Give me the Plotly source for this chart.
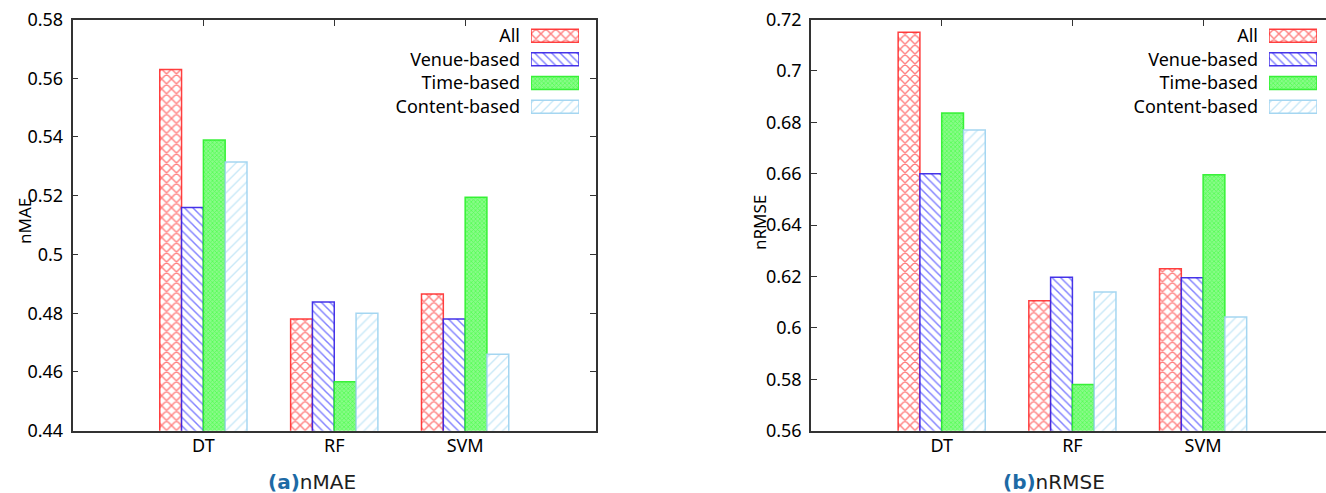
import plotly.graph_objects as go

# ---------------- data ----------------
models = ["DT", "RF", "SVM"]
series_names = ["All", "Venue-based", "Time-based", "Content-based"]

nmae_all = [0.563, 0.478, 0.4865]
nmae_venue = [0.516, 0.4838, 0.478]
nmae_time = [0.539, 0.4567, 0.5195]
nmae_content = [0.5315, 0.480, 0.466]

nrmse_all = [0.715, 0.6106, 0.623]
nrmse_venue = [0.660, 0.6197, 0.6195]
nrmse_time = [0.6836, 0.578, 0.6596]
nrmse_content = [0.677, 0.614, 0.6042]

nmae_ticks = [0.44, 0.46, 0.48, 0.5, 0.52, 0.54, 0.56, 0.58]
nrmse_ticks = [0.56, 0.58, 0.6, 0.62, 0.64, 0.66, 0.68, 0.7, 0.72]
nmae_ticktext = ["0.44", "0.46", "0.48", "0.5", "0.52", "0.54", "0.56", "0.58"]
nrmse_ticktext = ["0.56", "0.58", "0.6", "0.62", "0.64", "0.66", "0.68", "0.7", "0.72"]

# ---------------- styles ----------------
styles = [
    dict(shape="x", fg="#ff0000", bg="#ffffff", size=7, sol=0.36, line="rgba(255,30,30,0.85)"),
    dict(shape="\\", fg="#0000ff", bg="#ffffff", size=6, sol=0.24, line="rgba(50,30,230,0.9)"),
    dict(shape="x", fg="#22ff22", bg="#88fb88", size=3, sol=0.45, line="rgba(40,240,40,0.9)"),
    dict(shape="/", fg="#92d2f0", bg="#ffffff", size=7, sol=0.2, line="rgba(160,212,240,0.95)"),
]

FONT = "Noto Sans"
W, H = 1326, 493
AX = "#333333"

def px_x(p):
    return p / W

def px_y(p):
    return 1 - p / H

def marker_for(st):
    return dict(
        color=st["bg"],
        line=dict(color=st["line"], width=1.5),
        pattern=dict(shape=st["shape"], fgcolor=st["fg"], bgcolor=st["bg"],
                     size=st["size"], solidity=st["sol"], fillmode="overlay"),
    )

fig = go.Figure()

panels = [
    dict(vals=[nmae_all, nmae_venue, nmae_time, nmae_content], xa="x", ya="y"),
    dict(vals=[nrmse_all, nrmse_venue, nrmse_time, nrmse_content], xa="x2", ya="y2"),
]

for p in panels:
    for name, v, st in zip(series_names, p["vals"], styles):
        fig.add_trace(go.Bar(
            x=models, y=v, name=name, showlegend=False,
            xaxis=p["xa"], yaxis=p["ya"], marker=marker_for(st), hoverinfo="skip",
        ))

# empty traces for the top tick axes
fig.add_trace(go.Scatter(x=[], y=[], xaxis="x3", yaxis="y", showlegend=False))
fig.add_trace(go.Scatter(x=[], y=[], xaxis="x4", yaxis="y2", showlegend=False))

# legend emulation (text left, swatch right)
for xa, ya in (("x5", "y5"), ("x6", "y6")):
    for name, st in zip(series_names, styles):
        fig.add_trace(go.Bar(
            y=[name], x=[1], orientation="h", offsetgroup="legend_" + xa,
            xaxis=xa, yaxis=ya, showlegend=False, width=0.55, hoverinfo="skip",
            marker=marker_for(st),
        ))

ydom = [px_y(430.7), px_y(19.5)]
left_dom = [px_x(72.5), px_x(596)]
right_dom = [px_x(811), 1.0]
right_range_end = -1 + (W - 811) / 130.7

tickfont = dict(family=FONT, size=18, color="#000000")

common_x = dict(type="category", showgrid=False, zeroline=False, showline=True,
                linecolor=AX, linewidth=1.5, ticks="", tickfont=tickfont,
                ticklabelstandoff=-2, automargin=False)
common_y = dict(showgrid=False, zeroline=False, showline=True, linecolor=AX, linewidth=1.5,
                ticks="inside", ticklen=6, tickcolor=AX, tickwidth=1.2,
                tickfont=tickfont, ticklabelstandoff=4, automargin=False)

legend_y = dict(domain=[px_y(118.5), px_y(23.85)], type="category",
                categoryorder="array", categoryarray=series_names, range=[3.5, -0.5],
                showgrid=False, zeroline=False, showline=False, ticks="",
                tickfont=tickfont, ticklabelstandoff=10, automargin=False)

fig.update_layout(
    width=W, height=H,
    margin=dict(l=0, r=0, t=0, b=0, pad=0, autoexpand=False),
    paper_bgcolor="white", plot_bgcolor="white",
    barmode="group", bargap=1/3, bargroupgap=0,
    showlegend=False,
    xaxis=dict(domain=left_dom, anchor="y", range=[-1, 3], mirror=True, **common_x),
    yaxis=dict(domain=ydom, anchor="x", range=[0.44, 0.58], tickvals=nmae_ticks,
               ticktext=nmae_ticktext, mirror="ticks", **common_y),
    xaxis2=dict(domain=right_dom, anchor="y2", range=[-1, right_range_end], mirror=True, **common_x),
    yaxis2=dict(domain=ydom, anchor="x2", range=[0.56, 0.72], tickvals=nrmse_ticks,
                ticktext=nrmse_ticktext, mirror=False, **common_y),
    xaxis3=dict(overlaying="x", side="top", anchor="y", range=[-1, 3], tickvals=[0, 1, 2],
                showticklabels=False, showline=False, showgrid=False, zeroline=False,
                ticks="inside", ticklen=6, tickcolor=AX, tickwidth=1.2, automargin=False),
    xaxis4=dict(overlaying="x2", side="top", anchor="y2", range=[-1, right_range_end],
                tickvals=[0, 1, 2], showticklabels=False, showline=False, showgrid=False,
                zeroline=False, ticks="inside", ticklen=6, tickcolor=AX, tickwidth=1.2,
                automargin=False),
    xaxis5=dict(domain=[px_x(531), px_x(579)], anchor="y5", range=[0, 1], visible=False),
    yaxis5=dict(anchor="x5", **legend_y),
    xaxis6=dict(domain=[px_x(1269), px_x(1317)], anchor="y6", range=[0, 1], visible=False),
    yaxis6=dict(anchor="x6", **legend_y),
)

# axis titles
fig.add_annotation(text="nMAE", x=px_x(24), y=px_y(221), xref="paper", yref="paper",
                   textangle=-90, showarrow=False, xanchor="center", yanchor="middle",
                   font=dict(family=FONT, size=17, color="#000000"))
fig.add_annotation(text="nRMSE", x=px_x(760), y=px_y(223), xref="paper", yref="paper",
                   textangle=-90, showarrow=False, xanchor="center", yanchor="middle",
                   font=dict(family=FONT, size=17, color="#000000"))

# captions
cap_font = dict(family="DejaVu Sans", size=20, color="#1e1e1e")
fig.add_annotation(text='<b><span style="color:#1d6aa5">(a)</span></b>nMAE',
                   x=px_x(312), y=px_y(481.5), xref="paper", yref="paper", showarrow=False,
                   xanchor="center", yanchor="middle", font=cap_font)
fig.add_annotation(text='<b><span style="color:#1d6aa5">(b)</span></b>nRMSE',
                   x=px_x(1054), y=px_y(481.5), xref="paper", yref="paper", showarrow=False,
                   xanchor="center", yanchor="middle", font=cap_font)

fig.write_html("out.html")
